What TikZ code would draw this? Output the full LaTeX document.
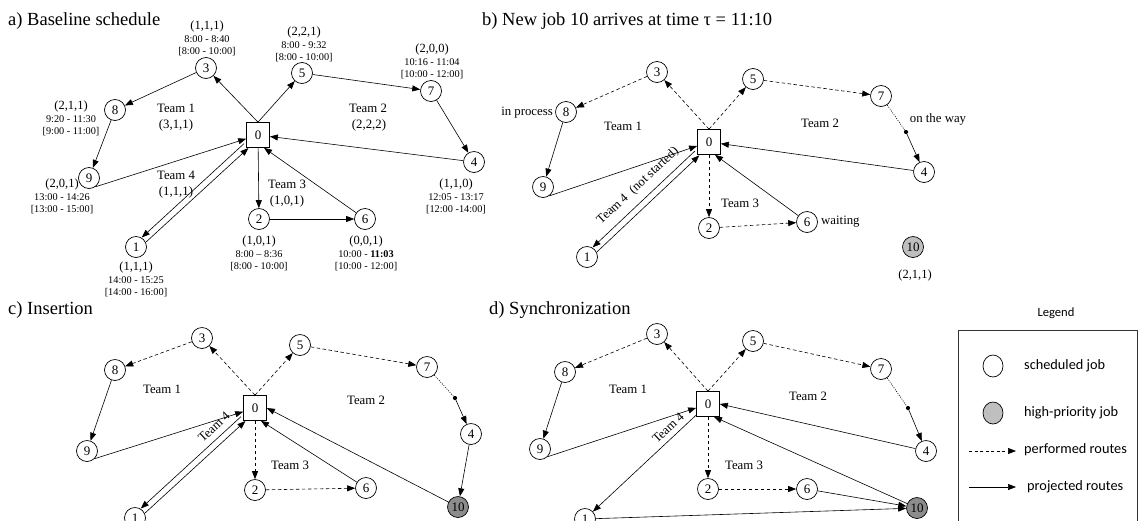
\documentclass[tikz,border=0pt]{standalone}
\usepackage{fontspec}
\setmainfont{Liberation Serif}
\newfontfamily\legendfont{Carlito}
\usetikzlibrary{arrows.meta,shapes.geometric}

% three stacked annotation lines under/over a job: demand triple, service time, time window
\newcommand\jobnote[6]{%
  \node[tri] (#1-t) at (#2,#3) {#4};
  \node[tm]  (#1-s) at (#2,#3+13) {#5};
  \node[tm]  (#1-w) at (#2,#3+25.5) {#6};}

\begin{document}
\begin{tikzpicture}[x=1pt,y=-1pt,
  job/.style={circle,draw,line width=0.7pt,minimum size=21pt,inner sep=0pt,
    font=\fontsize{13}{13}\selectfont},
  hotlight/.style={job,fill=black!25},
  hotdark/.style={job,fill=black!45},
  depot/.style={rectangle,draw,line width=0.7pt,minimum width=23pt,minimum height=25pt,
    inner sep=0pt,font=\fontsize{13}{13}\selectfont},
  route/.style={-{Triangle[length=8pt,width=6pt]},line width=0.6pt},
  done/.style={route,dash pattern=on 3.5pt off 2.5pt},
  trail/.style={line width=0.6pt,dash pattern=on 1pt off 1.3pt},
  waypt/.style={circle,fill,inner sep=0pt,minimum size=4.2pt},
  tri/.style={font=\fontsize{12.5}{14}\selectfont,inner sep=0pt},
  tm/.style={font=\fontsize{10.3}{12}\selectfont,inner sep=0pt},
  lbl/.style={font=\fontsize{12.8}{15}\selectfont,inner sep=0pt},
  ttl/.style={font=\fontsize{18.5}{20}\selectfont,anchor=west,inner sep=0pt},
  legtext/.style={font=\legendfont\fontsize{14.3}{16}\selectfont,anchor=west,inner sep=0pt},
]
\useasboundingbox (0,0) rectangle (1140,520);
\clip (0,0) rectangle (1140,520);

% ================= a) Baseline schedule =================
\node[ttl] (a-title) at (8,21) {a) Baseline schedule};
\node[depot] (a0) at (258,135) {0};
\node[job] (a1) at (136,247) {1};
\node[job] (a2) at (259,219) {2};
\node[job] (a3) at (206,68) {3};
\node[job] (a4) at (474,162) {4};
\node[job] (a5) at (302,73) {5};
\node[job] (a6) at (365,219) {6};
\node[job] (a7) at (431,91) {7};
\node[job] (a8) at (115,110) {8};
\node[job] (a9) at (89,178) {9};

\jobnote{a3}{207}{26}{(1,1,1)}{8:00 - 8:40}{[8:00 - 10:00]}
\jobnote{a5}{304}{32}{(2,2,1)}{8:00 - 9:32}{[8:00 - 10:00]}
\jobnote{a7}{432}{49}{(2,0,0)}{10:16 - 11:04}{[10:00 - 12:00]}
\jobnote{a8}{71}{106}{(2,1,1)}{9:20 - 11:30}{[9:00 - 11:00]}
\jobnote{a9}{62}{184}{(2,0,1)}{13:00 - 14:26}{[13:00 - 15:00]}
\jobnote{a1}{136}{267}{(1,1,1)}{14:00 - 15:25}{[14:00 - 16:00]}
\jobnote{a2}{259}{241}{(1,0,1)}{8:00 – 8:36}{[8:00 - 10:00]}
\jobnote{a6}{366}{241}{(0,0,1)}{10:00 - \textbf{11:03}}{[10:00 - 12:00]}
\jobnote{a4}{456}{184}{(1,1,0)}{12:05 - 13:17}{[12:00 -14:00]}

\node[lbl] (a-team1) at (176,108) {Team 1};
\node[lbl] (a-team1v) at (176,125) {(3,1,1)};
\node[lbl] (a-team2) at (368,108) {Team 2};
\node[lbl] (a-team2v) at (369,125) {(2,2,2)};
\node[lbl] (a-team3) at (287,184) {Team 3};
\node[lbl] (a-team3v) at (287,201) {(1,0,1)};
\node[lbl] (a-team4) at (176,175) {Team 4};
\node[lbl] (a-team4v) at (176,192) {(1,1,1)};

\draw[route] (a0.north) -- (a3);
\draw[route] (a0.north) -- (a5);
\draw[route] (a3) -- (a8);
\draw[route] (a8) -- (a9);
\draw[route] (a9.-55) -- (a0);
\draw[route] (a5) -- (a7);
\draw[route] (a7) -- (a4);
\draw[route] (a4) -- (a0);
\draw[route] (a0) -- (a2);
\draw[route] (a2) -- (a6);
\draw[route] (a6) -- (a0.-65);
\draw[route,transform canvas={shift={(-2.2pt,2.2pt)}}] (a0) -- (a1);
\draw[route,transform canvas={shift={(2.2pt,-2.2pt)}}] (a1) -- (a0);

% ================= b) New job arrives =================
\node[ttl] (b-title) at (482,21) {b) New job 10 arrives at time τ = 11:10};
\node[depot] (b0) at (709,142) {0};
\node[job] (b1) at (587,257) {1};
\node[job] (b2) at (709,228) {2};
\node[job] (b3) at (657,72) {3};
\node[job] (b4) at (924,172) {4};
\node[job] (b5) at (753,79) {5};
\node[job] (b6) at (807,222) {6};
\node[job] (b7) at (881,96) {7};
\node[job] (b8) at (566,112) {8};
\node[job] (b9) at (543,187) {9};
\node[hotlight] (b10) at (913,247) {10};
\node[waypt] (bw) at (906,132) {};

\node[lbl,anchor=east] (b-proc) at (553,113) {in process};
\node[lbl] (b-way) at (938,119) {on the way};
\node[lbl,anchor=west] (b-wait) at (821,222) {waiting};
\node[tri] (b10-t) at (915,275) {(2,1,1)};

\node[lbl] (b-team1) at (623,126) {Team 1};
\node[lbl] (b-team2) at (820,123) {Team 2};
\node[lbl] (b-team3) at (740,203) {Team 3};
\node[lbl,rotate=43] (b-team4) at (638,186) {Team 4 \ (not started)};

\draw[done] (b0.north) -- (b3);
\draw[done] (b0.north) -- (b5);
\draw[done] (b3) -- (b8);
\draw[route] (b8) -- (b9);
\draw[route] (b9.-55) -- (b0);
\draw[done] (b5) -- (b7);
\draw[trail] (b7) -- (bw);
\draw[route] (bw) -- (b4);
\draw[route] (b4) -- (b0);
\draw[done] (b0) -- (b2);
\draw[done] (b2) -- (b6);
\draw[route] (b6) -- (b0.-65);
\draw[route,transform canvas={shift={(-2.2pt,2.2pt)}}] (b0) -- (b1);
\draw[route,transform canvas={shift={(2.2pt,-2.2pt)}}] (b1) -- (b0);

% ================= c) Insertion =================
\node[ttl] (c-title) at (8,310) {c) Insertion};
\node[depot] (c0) at (255,408) {0};
\node[job] (c1) at (135,518) {1};
\node[job] (c2) at (255,490) {2};
\node[job] (c3) at (202,338) {3};
\node[job] (c4) at (471,434) {4};
\node[job] (c5) at (300,345) {5};
\node[job] (c6) at (366,488) {6};
\node[job] (c7) at (427,367) {7};
\node[job] (c8) at (115,370) {8};
\node[job] (c9) at (87,451) {9};
\node[hotdark] (c10) at (458,507) {10};
\node[waypt] (cw) at (455,398) {};

\node[lbl] (c-team1) at (162,389) {Team 1};
\node[lbl] (c-team2) at (366,400) {Team 2};
\node[lbl] (c-team3) at (290,465) {Team 3};
\node[lbl,rotate=43] (c-team4) at (214,427) {Team 4};

\draw[done] (c0.north) -- (c3);
\draw[done] (c0.north) -- (c5);
\draw[done] (c3) -- (c8);
\draw[route] (c8) -- (c9);
\draw[route] (c9.-45) -- (c0);
\draw[done] (c5) -- (c7);
\draw[trail] (c7) -- (cw);
\draw[route] (cw) -- (c4);
\draw[route] (c4) -- (c10);
\draw[route] (c10) -- (c0.east);
\draw[done] (c0) -- (c2);
\draw[done] (c2) -- (c6);
\draw[route] (c6) -- (c0.-65);
\draw[route,transform canvas={shift={(-2.2pt,2.2pt)}}] (c0) -- (c1);
\draw[route,transform canvas={shift={(2.2pt,-2.2pt)}}] (c1) -- (c0);

% ================= d) Synchronization =================
\node[ttl] (d-title) at (489,310) {d) Synchronization};
\node[depot] (d0) at (708,404) {0};
\node[job] (d1) at (585,519) {1};
\node[job] (d2) at (708,489) {2};
\node[job] (d3) at (657,334) {3};
\node[job] (d4) at (926,451) {4};
\node[job] (d5) at (753,341) {5};
\node[job] (d6) at (807,489) {6};
\node[job] (d7) at (881,369) {7};
\node[job] (d8) at (565,372) {8};
\node[job] (d9) at (540,449) {9};
\node[hotdark] (d10) at (917,508) {10};
\node[waypt] (dw) at (908,408) {};

\node[lbl] (d-team1) at (628,389) {Team 1};
\node[lbl] (d-team2) at (808,396) {Team 2};
\node[lbl] (d-team3) at (744,465) {Team 3};
\node[lbl,rotate=43] (d-team4) at (668,428) {Team 4};

\draw[done] (d0.north) -- (d3);
\draw[done] (d0.north) -- (d5);
\draw[done] (d3) -- (d8);
\draw[route] (d8) -- (d9);
\draw[route] (d9.-45) -- (d0);
\draw[done] (d5) -- (d7);
\draw[trail] (d7) -- (dw);
\draw[route] (dw) -- (d4);
\draw[route] (d4) -- (d0.east);
\draw[route] (d10) -- (d0.-65);
\draw[done] (d0) -- (d2);
\draw[done] (d2) -- (d6);
\draw[route] (d6) -- (d10);
\draw[route] (d0) -- (d1);
\draw[route] (d1) -- (d10);

% ================= Legend =================
\node[font=\legendfont\fontsize{12.6}{14}\selectfont] (leg-title) at (1056,313) {Legend};
\draw[line width=0.8pt,draw=black!80] (958,330) rectangle (1137,540);
\node[ellipse,draw,line width=0.7pt,minimum width=20pt,minimum height=22pt,inner sep=0pt] (leg-job) at (993,366) {};
\node[ellipse,draw,line width=0.7pt,fill=black!25,minimum width=20pt,minimum height=22pt,inner sep=0pt] (leg-hot) at (993,413) {};
\node[legtext] (leg-jobt) at (1024,366) {scheduled job};
\node[legtext] (leg-hott) at (1024,413) {high-priority job};
\coordinate (leg-d1) at (969,451);
\coordinate (leg-d2) at (1016,451);
\coordinate (leg-s1) at (969,487);
\coordinate (leg-s2) at (1016,487);
\draw[done,dash pattern=on 3pt off 2.5pt] (leg-d1) -- (leg-d2);
\draw[route] (leg-s1) -- (leg-s2);
\node[legtext] (leg-dt) at (1024,450) {performed routes};
\node[legtext] (leg-st) at (1027,487) {projected routes};

\end{tikzpicture}
\end{document}
